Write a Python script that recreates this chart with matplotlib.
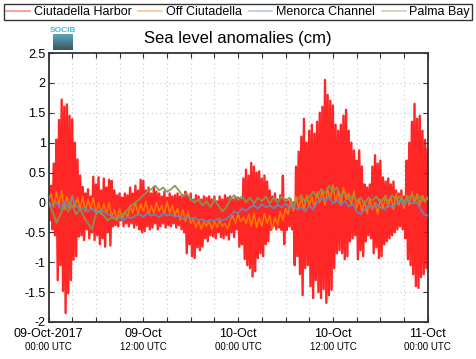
import numpy as np
import pandas as pd
import matplotlib
matplotlib.use("Agg")
import matplotlib.pyplot as plt
from matplotlib.lines import Line2D
from matplotlib.transforms import blended_transform_factory
from matplotlib.colors import LinearSegmentedColormap

plt.rcParams['font.family'] = ['Liberation Sans', 'DejaVu Sans']

# ---------------- data (cm) ----------------
start = "2017-10-09 00:00"

# Ciutadella Harbor, 10-minute samples
harbor = [
    0.25, -0.30, 0.28, -0.45, 0.65, -0.55, 1.05, -1.30, 1.38, -1.05, 1.72, -1.48,
    1.60, -1.85, 1.64, -1.52, 1.45, -1.30, 1.39, -0.96, 1.00, -0.90, 0.72, -0.57,
    0.45, -0.55, 0.26, -0.63, 0.15, -0.45, 0.22, -0.60, 0.10, -0.50, 0.43, -0.63,
    0.30, -0.55, 0.42, -0.70, 0.20, -0.60, 0.40, -0.74, 0.25, -0.50, 0.38, -0.72,
    0.36, -0.40, 0.20, -0.38, 0.12, -0.40, 0.15, -0.30, 0.08, -0.40, 0.15, -0.35,
    0.12, -0.40, 0.25, -0.35, 0.15, -0.42, 0.28, -0.38, 0.20, -0.45, 0.38, -0.50,
    0.36, -0.48, 0.20, -0.40, 0.25, -0.45, 0.15, -0.42, 0.25, -0.35, 0.18, -0.45,
    0.15, -0.40, 0.10, -0.35, 0.18, -0.42, 0.08, -0.38, 0.15, -0.40, 0.10, -0.35,
    0.12, -0.42, 0.15, -0.38, 0.10, -0.45, 0.12, -0.50, 0.18, -0.85, 0.10, -0.70,
    0.15, -0.90, 0.05, -0.93, 0.12, -0.75, 0.10, -0.80, 0.05, -0.74, 0.10, -0.60,
    0.08, -0.65, 0.10, -0.55, 0.05, -0.57, 0.10, -0.60, 0.02, -0.50, 0.10, -0.58,
    0.05, -0.60, 0.12, -0.55, 0.08, -0.62, 0.10, -0.50, 0.05, -0.58, 0.08, -0.45,
    0.08, -0.74, 0.05, -0.70, 0.40, -0.95, 0.55, -1.05, 0.45, -1.10, 0.66, -1.24,
    0.60, -1.15, 0.50, -0.93, 0.52, -0.85, 0.40, -0.90, 0.45, -0.70, 0.35, -0.65,
    0.20, -0.46, 0.10, -0.40, 0.15, -0.45, 0.05, -0.42, 0.12, -0.46, 0.45, -0.70,
    0.05, -0.46, 0.02, -0.40, 0.05, -0.45, 0.00, -1.05, 0.60, -0.90, 0.85, -1.20,
    1.10, -1.55, 1.40, -1.10, 1.00, -1.05, 1.20, -1.40, 1.30, -1.60, 1.15, -1.30,
    1.35, -1.50, 1.50, -1.60, 1.60, -1.45, 2.05, -1.68, 1.80, -1.55, 1.70, -1.46,
    1.62, -1.10, 1.30, -0.85, 1.20, -0.80, 1.30, -0.85, 1.45, -0.95, 1.55, -0.90,
    1.20, -0.65, 1.00, -0.60, 0.87, -0.55, 0.70, -0.95, 0.87, -0.80, 0.60, -0.90,
    0.30, -0.65, 0.25, -0.55, 0.30, -0.60, 0.60, -0.85, 0.79, -0.75, 0.65, -0.93,
    0.70, -0.90, 0.42, -0.70, 0.35, -0.65, 0.40, -0.60, 0.30, -0.55, 0.35, -0.50,
    0.20, -0.45, 0.15, -0.40, 0.20, -0.45, 0.10, -0.60, 0.70, -0.95, 1.00, -1.05,
    1.35, -1.20, 1.65, -1.40, 1.40, -1.43, 1.45, -1.25, 1.20, -1.20, 1.05, -1.10,
    0.90,
]

# Off Ciutadella, 20-minute samples
off_ciutadella = [
    0.05, 0.15, -0.08, 0.18, -0.05, 0.20, -0.12, 0.10, -0.10, 0.12,
    -0.08, 0.08, -0.12, 0.10, -0.15, 0.05, -0.10, 0.08, -0.18, 0.00,
    -0.20, -0.02, -0.18, 0.00, -0.25, -0.12, -0.30, -0.10, -0.28, -0.15,
    -0.25, -0.05, -0.18, 0.00, -0.20, -0.02, -0.15, 0.02, -0.20, -0.05,
    -0.18, 0.00, -0.15, -0.05, -0.20, 0.02, -0.18, -0.05, -0.22, -0.10,
    -0.30, -0.12, -0.32, -0.15, -0.35, -0.28, -0.42, -0.30, -0.45, -0.32,
    -0.40, -0.30, -0.45, -0.32, -0.42, -0.30, -0.40, -0.35, -0.45, -0.30,
    -0.22, -0.35, -0.20, -0.32, -0.25, -0.35, -0.20, -0.40, -0.18, -0.42,
    -0.25, -0.40, -0.18, -0.35, -0.22, -0.45, -0.25, -0.38, -0.15, -0.30,
    -0.10, -0.20, 0.05, -0.15, 0.10, -0.10, 0.08, -0.12, 0.12, -0.05,
    0.10, -0.08, 0.18, 0.00, 0.20, -0.05, 0.22, 0.05, 0.30, 0.00,
    0.18, -0.02, 0.25, 0.05, 0.15, -0.05, 0.20, -0.10, 0.05, -0.15,
    0.02, -0.18, 0.05, -0.12, 0.00, -0.20, 0.05, -0.10, 0.12, -0.08,
    0.10, -0.12, 0.15, -0.05, 0.10, -0.10, 0.12, -0.05, 0.18, -0.02,
    0.15, -0.05, 0.12, 0.00, 0.08,
]

# Menorca Channel, 30-minute samples
menorca_channel = [
    0.02, -0.05, 0.00, -0.10, 0.02, -0.08, 0.10, -0.05,
    -0.12, -0.08, -0.15, -0.10, -0.18, -0.12, -0.15, -0.20, -0.22,
    -0.28, -0.25, -0.30, -0.24, -0.27, -0.22,
    -0.20, -0.24, -0.18, -0.22, -0.20, -0.25, -0.18, -0.22, -0.20, -0.24,
    -0.22, -0.28, -0.24, -0.27, -0.25, -0.30,
    -0.28, -0.32, -0.29, -0.31, -0.27, -0.30, -0.28, -0.22,
    -0.15, -0.18, -0.10, -0.14, -0.08,
    -0.05, -0.10, -0.03, -0.08, -0.05, -0.10, -0.04, -0.08, -0.02, -0.10, -0.06, -0.12,
    -0.08, -0.15, -0.05, -0.12, 0.00,
    0.08, 0.02, 0.10, -0.02, 0.05, -0.05, 0.03, -0.07, -0.02,
    -0.15, -0.20, -0.12,
    -0.05, -0.10, -0.02, -0.08, -0.12, -0.04, -0.08, -0.02,
    0.03, -0.05, 0.05, -0.02, 0.02, -0.08,
    -0.20, -0.22,
]

# Palma Bay, 30-minute samples
palma_bay = [
    0.00, -0.15, -0.34, -0.20, -0.05, -0.15, -0.05, -0.20, -0.10, -0.25,
    -0.35, -0.45, -0.20, -0.15, -0.22, -0.30, -0.25, -0.28, -0.22, -0.20,
    -0.12, -0.05, 0.00, 0.05, 0.12, 0.18, 0.22, 0.28, 0.20, 0.25,
    0.18, 0.22, 0.28, 0.20, 0.10, 0.15, 0.05, 0.00, 0.05, -0.05,
    0.02, -0.08, 0.05, -0.05, -0.15, -0.08, 0.05, 0.12, 0.05, 0.10,
    0.00, 0.08, -0.02, 0.08, 0.02, 0.10, -0.02, 0.08, 0.00, 0.10,
    0.02, 0.08, -0.05, 0.05, 0.12, 0.00, 0.10, 0.18, 0.08, 0.22,
    0.15, 0.28, 0.18, 0.25, 0.10, 0.18, 0.05, 0.12, 0.02, 0.08,
    -0.02, 0.08, 0.03, 0.10, 0.00, 0.08, 0.02, 0.12, 0.05, 0.10,
    0.02, 0.08, 0.12, 0.05, 0.10, 0.02, 0.08,
]

names = ["Ciutadella Harbor", "Off Ciutadella", "Menorca Channel", "Palma Bay"]
colors = ["#ff0000", "#ff8000", "#6688bb", "#7f9a55"]

t_harbor = pd.date_range(start, periods=len(harbor), freq="10min")
t_off = pd.date_range(start, periods=len(off_ciutadella), freq="20min")
t_men = pd.date_range(start, periods=len(menorca_channel), freq="30min")
t_pal = pd.date_range(start, periods=len(palma_bay), freq="30min")

xtick_top = ["09-Oct-2017", "09-Oct", "10-Oct", "10-Oct", "11-Oct"]
xtick_bottom = ["00:00 UTC", "12:00 UTC", "00:00 UTC", "12:00 UTC", "00:00 UTC"]
yticks = [-2, -1.5, -1, -0.5, 0, 0.5, 1, 1.5, 2, 2.5]
ytick_labels = ["-2", "-1.5", "-1", "-0.5", "0", "0.5", "1", "1.5", "2", "2.5"]

# ---------------- figure ----------------
W, H = 476, 359
fig = plt.figure(figsize=(W / 100, H / 100), dpi=100)
ax = fig.add_axes([48.5 / W, 1 - 322 / H, (427.7 - 48.5) / W, (322 - 53) / H])

ax.plot(t_harbor, harbor, color=colors[0], lw=1.7, alpha=0.85, zorder=2)
ax.plot(t_off, off_ciutadella, color=colors[1], lw=1.1, alpha=0.9, zorder=3)
ax.plot(t_men, menorca_channel, color=colors[2], lw=1.3, alpha=0.95, zorder=4)
ax.plot(t_pal, palma_bay, color=colors[3], lw=1.3, alpha=0.95, zorder=5)

t0 = pd.Timestamp(start)
t_end = t0 + pd.Timedelta(hours=48)
ax.set_xlim(t0, t_end)
ax.set_ylim(-2, 2.5)

grid_ticks = [t0 + pd.Timedelta(hours=h) for h in range(0, 49, 3)]
label_ticks = [t0 + pd.Timedelta(hours=h) for h in range(0, 49, 12)]
ax.set_xticks(grid_ticks)
ax.set_xticklabels(["" for _ in grid_ticks])
ax.set_yticks(yticks)
ax.set_yticklabels(ytick_labels)

ax.tick_params(axis="both", which="major", direction="in", length=3.5, width=0.8,
               top=True, right=True, labelsize=9, pad=2, color="#333333")

trans = blended_transform_factory(ax.transData, ax.transAxes)
for tk, top_lab, bot_lab in zip(label_ticks, xtick_top, xtick_bottom):
    ax.text(tk, -0.024, top_lab, transform=trans, ha="center", va="top", fontsize=9)
    ax.text(tk, -0.076, bot_lab, transform=trans, ha="center", va="top", fontsize=7)

ax.grid(True, which="major", color="#c8c8c8", linestyle=(0, (1, 3)), linewidth=0.8)
for side, sp in ax.spines.items():
    sp.set_color("#333333")
    sp.set_linewidth(1.3)

ax.set_title("Sea level anomalies (cm)", fontsize=12, pad=7)

# legend
handles = [Line2D([], [], color=c, lw=1.2, alpha=0.45) for c in colors]
leg = fig.legend(handles, names, loc="upper center", bbox_to_anchor=(0.5, 1 - 4 / H),
                 ncol=4, fontsize=9, handlelength=1.9, handletextpad=0.3,
                 columnspacing=0.55, borderpad=0.15, borderaxespad=0,
                 fancybox=False, frameon=True)
leg.get_frame().set_edgecolor("black")
leg.get_frame().set_linewidth(1.0)

# SOCIB logo
lax = fig.add_axes([53 / W, 1 - 50 / H, 19 / W, 16 / H])
grad = np.linspace(0, 1, 32).reshape(-1, 1)
cm = LinearSegmentedColormap.from_list("socib", ["#5aa8b8", "#3d5566"])
lax.imshow(grad, aspect="auto", cmap=cm, extent=[0, 1, 0, 1])
lax.set_axis_off()
fig.text(62.5 / W, 1 - 30.5 / H, "SOCIB", fontsize=6, color="#4bb8d0",
         ha="center", va="center", fontweight="bold")

fig.savefig("out.png", dpi=100)
